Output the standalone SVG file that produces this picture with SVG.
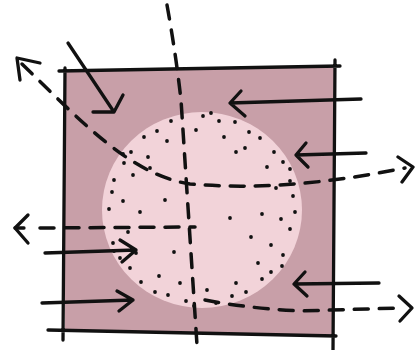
<svg xmlns="http://www.w3.org/2000/svg" width="415" height="350" viewBox="0 0 415 350">
<style>
.ln{fill:none;stroke:#111;stroke-width:3.3;stroke-linecap:round;stroke-linejoin:round}
.ds{fill:none;stroke:#111;stroke-width:3.5;stroke-linecap:round;stroke-dasharray:14 11}
.dot{fill:#111}
</style>
<rect width="415" height="350" fill="#fff"/>
<g id="square">
<polygon points="65,70 334,67 332,335 65,331" fill="#c89fa8"/>
<path class="ln" d="M59,71 L340,66 M335,60 L333,350 M65,68 L63,340 M48,330 L336,336"/>
</g>
<g id="circle">
<ellipse cx="202" cy="210" rx="100" ry="98" fill="#f2d3d9"/>
</g>
<g id="stipple" class="dot">
<circle cx="295" cy="212" r="1.9"/><circle cx="290" cy="229" r="1.9"/><circle cx="283" cy="255" r="1.9"/><circle cx="271" cy="272" r="1.9"/><circle cx="262" cy="279" r="1.9"/><circle cx="246" cy="292" r="1.9"/><circle cx="232" cy="296" r="1.9"/><circle cx="216" cy="303" r="1.9"/><circle cx="186" cy="301" r="1.9"/><circle cx="168" cy="295" r="1.9"/><circle cx="155" cy="292" r="1.9"/><circle cx="141" cy="282" r="1.9"/><circle cx="130" cy="268" r="1.9"/><circle cx="120" cy="258" r="1.9"/><circle cx="113" cy="243" r="1.9"/><circle cx="109" cy="209" r="1.9"/><circle cx="112" cy="192" r="1.9"/><circle cx="114" cy="180" r="1.9"/><circle cx="124" cy="163" r="1.9"/><circle cx="131" cy="152" r="1.9"/><circle cx="144" cy="137" r="1.9"/><circle cx="157" cy="131" r="1.9"/><circle cx="171" cy="121" r="1.9"/><circle cx="203" cy="116" r="1.9"/><circle cx="219" cy="121" r="1.9"/><circle cx="235" cy="122" r="1.9"/><circle cx="249" cy="132" r="1.9"/><circle cx="260" cy="138" r="1.9"/><circle cx="274" cy="152" r="1.9"/><circle cx="283" cy="162" r="1.9"/><circle cx="290" cy="181" r="1.9"/><circle cx="293" cy="196" r="1.9"/>
<circle cx="281" cy="219" r="1.9"/><circle cx="271" cy="245" r="1.9"/><circle cx="258" cy="263" r="1.9"/><circle cx="236" cy="283" r="1.9"/><circle cx="207" cy="290" r="1.9"/><circle cx="180" cy="283" r="1.9"/><circle cx="159" cy="276" r="1.9"/><circle cx="136" cy="253" r="1.9"/><circle cx="128" cy="232" r="1.9"/><circle cx="123" cy="201" r="1.9"/><circle cx="133" cy="175" r="1.9"/><circle cx="148" cy="157" r="1.9"/><circle cx="167" cy="141" r="1.9"/><circle cx="196" cy="130" r="1.9"/><circle cx="224" cy="137" r="1.9"/><circle cx="245" cy="148" r="1.9"/><circle cx="267" cy="167" r="1.9"/><circle cx="276" cy="188" r="1.9"/>
<circle cx="282" cy="266" r="1.9"/><circle cx="194" cy="306" r="1.9"/><circle cx="114" cy="251" r="1.9"/><circle cx="123" cy="154" r="1.9"/><circle cx="211" cy="113" r="1.9"/><circle cx="290" cy="169" r="1.9"/>
<circle cx="165" cy="200" r="1.9"/><circle cx="230" cy="218" r="1.9"/><circle cx="251" cy="237" r="1.9"/><circle cx="140" cy="212" r="1.9"/><circle cx="236" cy="152" r="1.9"/><circle cx="174" cy="252" r="1.9"/><circle cx="262" cy="214" r="1.9"/><circle cx="150" cy="168" r="1.9"/>
</g>
<g id="connectors">
<path class="ds" d="M167,5 Q176,55 181,100 L197,345"/>
<path class="ds" d="M22,64 C80,120 130,175 190,184 C260,190 330,183 405,168"/>
<path class="ln" d="M40,63 L17,58 L20,80"/>
<path class="ln" d="M398,157 L413,167 L402,182"/>
<path class="ds" d="M40,228 L195,227"/>
<path class="ln" d="M15,228 L24,228"/>
<path class="ln" d="M28,215 L15,228 L28,243"/>
<path class="ds" d="M205,300 Q245,308 300,311 L400,308"/>
<path class="ln" d="M399,296 L412,308 L400,321"/>
<path class="ln" d="M68,43 L114,112 M93,112 L114,112 L123,95"/>
<path class="ln" d="M361,99 L230,103 L241,91 M230,103 L245,116"/>
<path class="ln" d="M366,153 L296,155 L306,143 M296,155 L308,167"/>
<path class="ln" d="M45,253 L136,250 L120,240 M136,250 L122,262"/>
<path class="ln" d="M42,303 L133,300 L117,291 M133,300 L119,311"/>
<path class="ln" d="M379,283 L294,284 L305,272 M294,284 L307,296"/>
</g>
</svg>
